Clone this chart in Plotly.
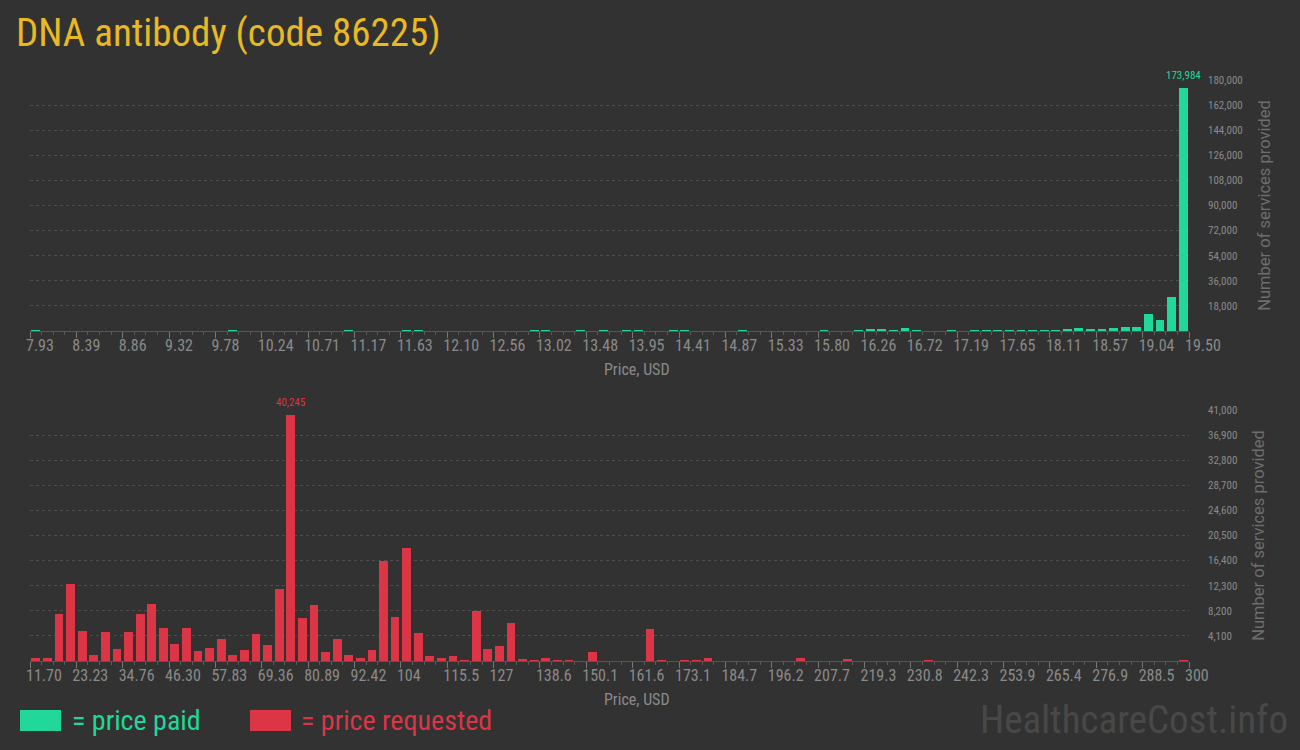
import plotly.graph_objects as go

# ---------------- data ----------------
title_text = "DNA antibody (code 86225)"

paid_min, paid_max = 7.93, 19.50
paid_tick_labels = ["7.93", "8.39", "8.86", "9.32", "9.78", "10.24", "10.71", "11.17", "11.63",
                    "12.10", "12.56", "13.02", "13.48", "13.95", "14.41", "14.87", "15.33", "15.80",
                    "16.26", "16.72", "17.19", "17.65", "18.11", "18.57", "19.04", "19.50"]
paid_counts = [
    500, 0, 0, 0, 0, 0, 0, 0, 0, 0,
    0, 0, 0, 0, 0, 0, 0, 500, 0, 0,
    0, 0, 0, 0, 0, 0, 0, 500, 0, 0,
    0, 0, 500, 500, 0, 0, 0, 0, 0, 0,
    0, 0, 0, 500, 500, 0, 0, 500, 0, 500,
    0, 500, 500, 0, 0, 500, 500, 0, 0, 0,
    0, 500, 0, 0, 0, 0, 0, 0, 500, 0,
    0, 500, 1200, 1200, 500, 1900, 500, 0, 0, 500,
    0, 500, 500, 500, 500, 500, 500, 500, 500, 1200,
    1900, 1200, 1200, 1900, 2600, 2600, 11900, 7600, 24700, 173984,
]
paid_y_ticks = [18000, 36000, 54000, 72000, 90000, 108000, 126000, 144000, 162000, 180000]

req_min, req_max = 11.70, 300.0
req_tick_labels = ["11.70", "23.23", "34.76", "46.30", "57.83", "69.36", "80.89", "92.42", "104",
                   "115.5", "127", "138.6", "150.1", "161.6", "173.1", "184.7", "196.2", "207.7",
                   "219.3", "230.8", "242.3", "253.9", "265.4", "276.9", "288.5", "300"]
req_counts = [
    440, 440, 7630, 12540, 4850, 930, 4690, 1910, 4690, 7630,
    9270, 5340, 2730, 5340, 1580, 2070, 3540, 930, 1750, 4360,
    2560, 11720, 40245, 6980, 9110, 1420, 3540, 930, 440, 1750,
    16300, 7140, 18430, 4530, 760, 440, 760, 110, 8120, 1910,
    2400, 6160, 270, 110, 440, 110, 110, 0, 1420, 0,
    0, 0, 0, 5180, 110, 0, 110, 110, 440, 0,
    0, 0, 0, 0, 0, 0, 440, 0, 0, 0,
    270, 0, 0, 0, 0, 0, 0, 110, 0, 0,
    0, 0, 0, 0, 0, 0, 0, 0, 0, 0,
    0, 0, 0, 0, 0, 0, 0, 0, 0, 110,
]
req_y_ticks = [4100, 8200, 12300, 16400, 20500, 24600, 28700, 32800, 36900, 41000]

legend_labels = ["= price paid", "= price requested"]
y_title = "Number of services provided"
x_title = "Price, USD"
watermark = "HealthcareCost.info"

# ---------------- style ----------------
BG = "#323232"
GREEN = "#21d89a"
RED = "#dc3545"
GOLD = "#e8b923"
TICK_C = "#8a8a8a"
GRID_C = "#4e4e4e"
COND = "Roboto Condensed, Liberation Sans Narrow, DejaVu Sans Condensed, Arial Narrow, sans-serif"


def bins(lo, hi, counts):
    n = len(counts)
    w = (hi - lo) / n
    xs = [lo + (i + 0.5) * w for i in range(n)]
    return xs, w


def tickvals(lo, hi, labels):
    k = len(labels) - 1
    return [lo + j * (hi - lo) / k for j in range(len(labels))]


fig = go.Figure()

px, pw = bins(paid_min, paid_max, paid_counts)
rx, rw = bins(req_min, req_max, req_counts)

fig.add_trace(go.Bar(x=px, y=paid_counts, width=pw * 0.76, marker=dict(color=GREEN, line=dict(width=0)),
                     xaxis="x", yaxis="y", showlegend=False, hoverinfo="x+y"))
fig.add_trace(go.Bar(x=rx, y=req_counts, width=rw * 0.76, marker=dict(color=RED, line=dict(width=0)),
                     xaxis="x2", yaxis="y2", showlegend=False, hoverinfo="x+y"))

XDOM = [30 / 1300, 1189 / 1300]


def xaxis_cfg(lo, hi, labels, anchor):
    step = (hi - lo) / (len(labels) - 1)
    return dict(
        domain=XDOM, range=[lo, hi], anchor=anchor, automargin=False,
        tickmode="array", tickvals=tickvals(lo, hi, labels), ticktext=labels,
        ticks="outside", ticklen=6, tickcolor="#777777", tickwidth=1,
        tickangle=0,
        ticklabelposition="outside right", ticklabelshift=-5,
        minor=dict(ticks="outside", ticklen=3, tickcolor="#5a5a5a", tick0=lo, dtick=step / 4, showgrid=False),
        tickfont=dict(family=COND, size=16, color=TICK_C),
        showline=True, linecolor="#555555", linewidth=1,
        showgrid=False, zeroline=False, fixedrange=True,
    )


def yaxis_cfg(dom, top, ticks, anchor):
    return dict(
        domain=dom, range=[0, top], anchor=anchor, side="right", automargin=False,
        tickmode="array", tickvals=ticks, ticktext=[f"{t:,}" for t in ticks],
        tickfont=dict(family=COND, size=11, color=TICK_C),
        ticks="", ticklabelstandoff=18,
        showgrid=True, gridcolor=GRID_C, griddash="dot", gridwidth=1,
        zeroline=False, showline=False, fixedrange=True,
        title=dict(text=y_title, font=dict(family="Roboto, Open Sans, sans-serif", size=16.5, color="#6e6e6e"),
                   standoff=16),
    )


fig.update_layout(
    width=1300, height=750,
    paper_bgcolor=BG, plot_bgcolor=BG,
    margin=dict(l=0, r=0, t=0, b=0, autoexpand=False),
    bargap=0,
    xaxis=xaxis_cfg(paid_min, paid_max, paid_tick_labels, "y"),
    yaxis=yaxis_cfg([(750 - 331) / 750, (750 - 80) / 750], 180000, paid_y_ticks, "x"),
    xaxis2=xaxis_cfg(req_min, req_max, req_tick_labels, "y2"),
    yaxis2=yaxis_cfg([(750 - 661) / 750, (750 - 410) / 750], 41000, req_y_ticks, "x2"),
    showlegend=False,
)

# x-axis titles (slightly right of centre, as in the original)
for xr, yr in [("x domain", "y domain"), ("x2 domain", "y2 domain")]:
    fig.add_annotation(text=x_title, xref=xr, yref=yr, x=(637 - 30) / 1159, y=0, yshift=-38,
                       xanchor="center", yanchor="middle", showarrow=False,
                       font=dict(family=COND, size=16, color=TICK_C))

# title
fig.add_annotation(text=title_text, xref="paper", yref="paper", x=14 / 1300, y=1 - 33 / 750,
                   xanchor="left", yanchor="middle", showarrow=False,
                   font=dict(family=COND, size=39, color=GOLD))

# max value labels
ip = max(range(len(paid_counts)), key=lambda i: paid_counts[i])
fig.add_annotation(x=px[ip], y=paid_counts[ip], xref="x", yref="y", text=f"{paid_counts[ip]:,}",
                   showarrow=False, yanchor="bottom", yshift=4,
                   font=dict(family=COND, size=11, color=GREEN))
ir = max(range(len(req_counts)), key=lambda i: req_counts[i])
fig.add_annotation(x=rx[ir], y=req_counts[ir], xref="x2", yref="y2", text=f"{req_counts[ir]:,}",
                   showarrow=False, yanchor="bottom", yshift=4,
                   font=dict(family=COND, size=11, color=RED))

# legend (drawn manually)
for lbl, col, x0, x1, tx in [(legend_labels[0], GREEN, 20, 61, 70), (legend_labels[1], RED, 250, 291, 299)]:
    fig.add_shape(type="rect", xref="paper", yref="paper", x0=x0 / 1300, x1=x1 / 1300,
                  y0=1 - 731 / 750, y1=1 - 710 / 750, fillcolor=col, line=dict(width=0))
    fig.add_annotation(text=lbl, xref="paper", yref="paper", x=tx / 1300, y=1 - 720 / 750,
                       xanchor="left", yanchor="middle", showarrow=False,
                       font=dict(family=COND, size=28, color=col))

# watermark
fig.add_annotation(text=watermark, xref="paper", yref="paper", x=1290 / 1300, y=1 - 720 / 750,
                   xanchor="right", yanchor="middle", showarrow=False,
                   font=dict(family=COND, size=39, color="#484848"))

fig.write_html("out.html", config={"displayModeBar": False},
               post_script="document.body.style.margin='0';document.body.style.background='#323232';")
